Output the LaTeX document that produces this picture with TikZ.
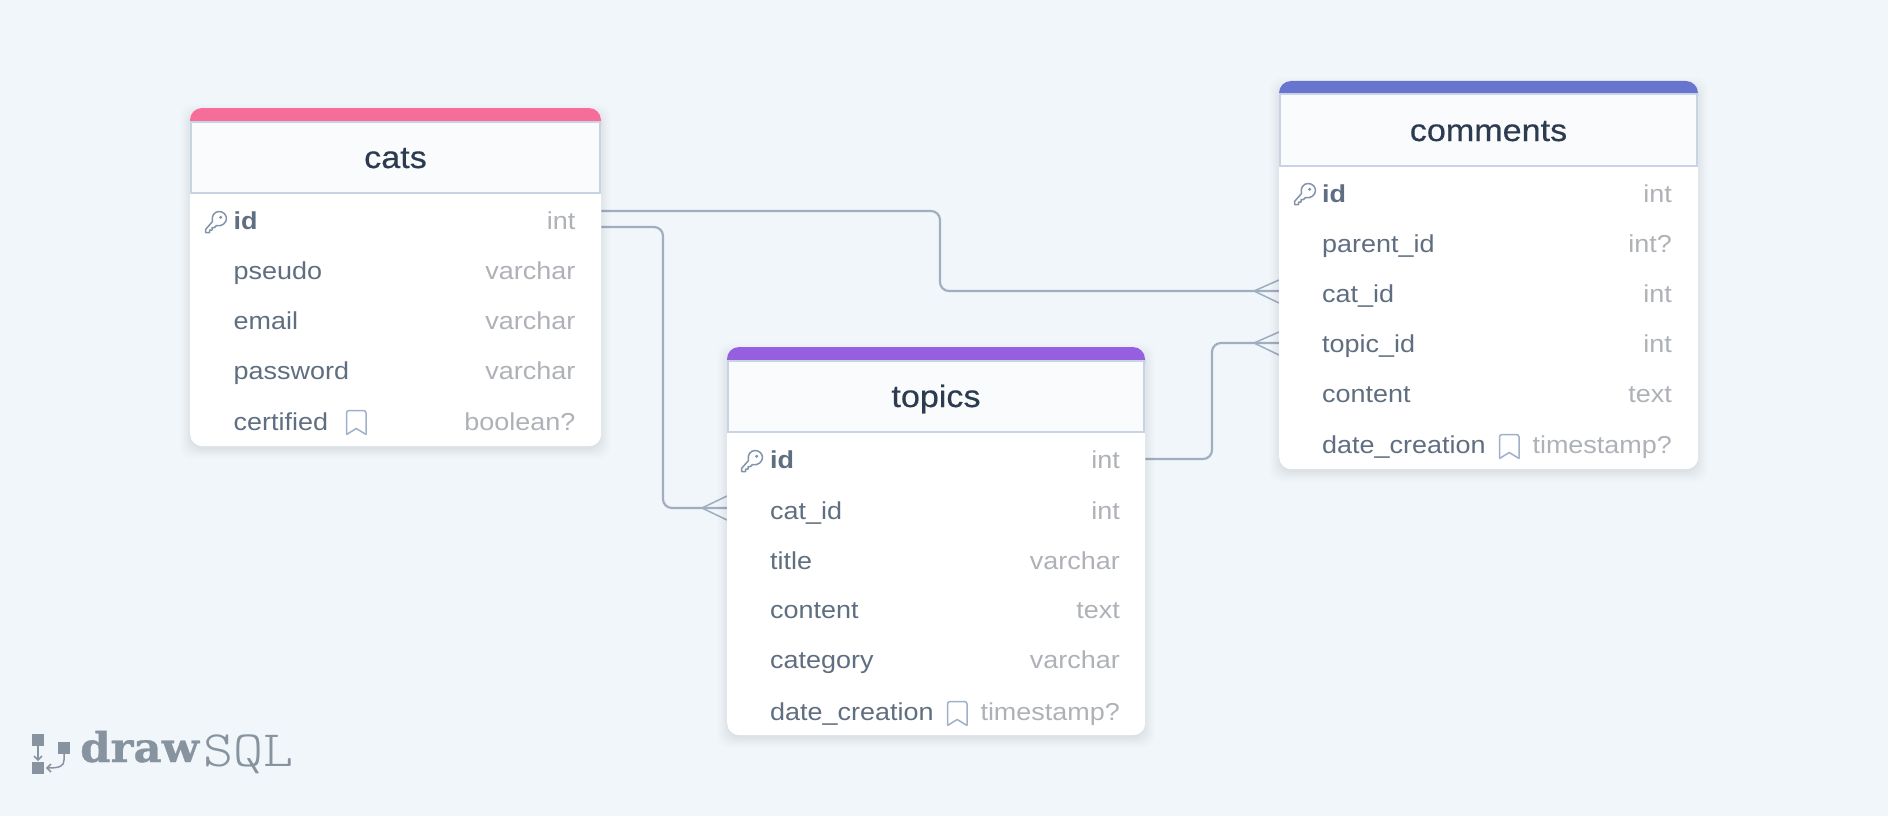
\documentclass[tikz,border=0pt]{standalone}
\usepackage{fontspec}
\setmainfont[FakeStretch=1.1]{Liberation Sans}
\newfontfamily\titlefont[FakeStretch=1.1,FakeBold=0.5]{Liberation Sans}
\newfontfamily\logobold[FakeStretch=1.06,FakeBold=0.8]{DejaVu Serif}
\newfontfamily\logolight[FakeStretch=1.12]{Latin Modern Mono Light}
\definecolor{pagebg}{HTML}{F1F6FA}
\definecolor{headbg}{HTML}{F9FBFD}
\definecolor{headline}{HTML}{C8D4E4}
\definecolor{titletxt}{HTML}{2D3B50}
\definecolor{nametxt}{HTML}{5F6E80}
\definecolor{typetxt}{HTML}{AEB2B7}
\definecolor{conn}{HTML}{A0AEC2}
\definecolor{iconc}{HTML}{8494A8}
\definecolor{bmark}{HTML}{A0B0CA}
\definecolor{logoc}{HTML}{87949F}
\definecolor{catpink}{HTML}{F76D9A}
\definecolor{compurple}{HTML}{6875CF}
\definecolor{toppurple}{HTML}{965FE0}
\pgfdeclarelayer{bg}
\pgfdeclarelayer{under}
\pgfsetlayers{bg,under,main}
\tikzset{
  x=1pt,y=-1pt,
  conline/.style={draw=conn,line width=2.2pt,rounded corners=9pt},
  crow/.style={draw=conn,line width=1.5pt},
  rowname/.style={anchor=base west,inner sep=0pt,text=nametxt,font=\fontsize{24.5}{24.5}\selectfont},
  pkname/.style={rowname,font=\fontsize{24.5}{24.5}\selectfont\bfseries},
  rowtype/.style={anchor=base east,inner sep=0pt,text=typetxt,font=\fontsize{24.5}{24.5}\selectfont},
  tabletitle/.style={anchor=base,inner sep=0pt,text=titletxt,font=\titlefont\fontsize{31}{31}\selectfont},
  bookmark/.style={draw=bmark,line width=1.5pt,line join=round},
  keyicon/.style={draw=iconc,line width=1.5pt,line join=round,line cap=round},
}
% #1 name, #2 left, #3 right, #4 top, #5 stripe bottom, #6 header bottom, #7 bottom, #8 colour
\newcommand{\erbox}[8]{%
  \foreach \s/\o in {10/0.008,8/0.01,6/0.012,4/0.014,2/0.016,0/0.02}{
    \fill[black,opacity=\o,rounded corners=12pt] (#2-\s,#4-\s+6) rectangle (#3+\s,#7+\s+3);
  }
  \node[fill=white,rounded corners=12pt,inner sep=0pt,minimum width=#3-#2,minimum height=#7-#4,anchor=north west] (#1body) at (#2,#4) {};
  \fill[#8,rounded corners=12pt] (#2,#5+16) -- (#2,#4) -- (#3,#4) -- (#3,#5+16) -- cycle;
  \fill[white] (#2,#5) rectangle (#3,#6+16);
  \node[draw=headline,fill=headbg,line width=1.8pt,inner sep=0pt,minimum width=#3-#2-1.8,minimum height=#6-#5-1.8,anchor=north west] (#1) at (#2,#5) {};
}
\newcommand{\keyat}[2]{%
  \begin{scope}[shift={(#1,#2)}]
    \draw[keyicon] (0.5,18.5) -- (0.5,21.5) -- (4.5,21.5) -- (4.5,19) -- (7,19) -- (7,16.5) -- (9.5,16.5) -- (11.5,14.5)
      .. controls (17,16) and (21.5,11.5) .. (21.5,7.5)
      .. controls (21.5,3.5) and (18,0.5) .. (14,0.5)
      .. controls (9.5,0.5) and (6,5) .. (7.5,10.5) -- (0.5,18.5) -- cycle;
    \fill[iconc] (15.7,6.3) circle (1.7);
  \end{scope}
}
\newcommand{\markat}[2]{%
  \draw[bookmark,rounded corners=2.5pt] (#1,#2+24) -- (#1,#2) -- (#1+19.5,#2) -- (#1+19.5,#2+24);
  \draw[bookmark] (#1,#2+24) -- (#1+9.75,#2+18) -- (#1+19.5,#2+24);
}
\begin{document}
\begin{tikzpicture}
\begin{pgfonlayer}{bg}
\fill[pagebg] (0,0) rectangle (1888,816);
\end{pgfonlayer}
\useasboundingbox (0,0) rectangle (1888,816);

\erbox{cats}{190}{601}{108}{121}{194}{446}{catpink}
\erbox{comments}{1279}{1698}{81}{93}{167}{469}{compurple}
\erbox{topics}{727}{1145}{347}{360}{433}{735}{toppurple}

\begin{pgfonlayer}{under}
\draw[conline] (catsbody.east |- 0,211) -- (940,211) -- (940,291) -- (commentsbody.west |- 0,291);
\draw[conline] (catsbody.east |- 0,227) -- (663,227) -- (663,508) -- (topicsbody.west |- 0,508);
\draw[conline] (topicsbody.east |- 0,459) -- (1212,459) -- (1212,343) -- (commentsbody.west |- 0,343);
\draw[crow] (commentsbody.west |- 0,280) -- (1254,291) -- (commentsbody.west |- 0,303);
\draw[crow] (commentsbody.west |- 0,332) -- (1254,343) -- (commentsbody.west |- 0,355);
\draw[crow] (topicsbody.west |- 0,496) -- (702,508) -- (topicsbody.west |- 0,520);
\end{pgfonlayer}

% cats
\node[tabletitle] (catsT) at (395.5,168) {cats};
\keyat{205}{211}
\node[pkname]  (cats1) at (233.5,229) {id};       \node[rowtype] (catst1) at (575.5,229) {int};
\node[rowname] (cats2) at (233.5,279) {pseudo};   \node[rowtype] (catst2) at (575.5,279) {varchar};
\node[rowname] (cats3) at (233.5,329) {email};    \node[rowtype] (catst3) at (575.5,329) {varchar};
\node[rowname] (cats4) at (233.5,379) {password}; \node[rowtype] (catst4) at (575.5,379) {varchar};
\node[rowname] (cats5) at (233.5,430) {certified};\node[rowtype] (catst5) at (575.5,430) {boolean?};
\markat{346.5}{410.5}

% comments
\node[tabletitle] (commentsT) at (1488.5,141) {comments};
\keyat{1294}{183}
\node[pkname]  (com1) at (1322,202) {id};            \node[rowtype] (comt1) at (1672,202) {int};
\node[rowname] (com2) at (1322,252) {parent\_id};    \node[rowtype] (comt2) at (1672,252) {int?};
\node[rowname] (com3) at (1322,302) {cat\_id};       \node[rowtype] (comt3) at (1672,302) {int};
\node[rowname] (com4) at (1322,352) {topic\_id};     \node[rowtype] (comt4) at (1672,352) {int};
\node[rowname] (com5) at (1322,402) {content};       \node[rowtype] (comt5) at (1672,402) {text};
\node[rowname] (com6) at (1322,453) {date\_creation};\node[rowtype] (comt6) at (1672,453) {timestamp?};
\markat{1499.5}{434.5}

% topics
\node[tabletitle] (topicsT) at (936,407) {topics};
\keyat{741}{450}
\node[pkname]  (top1) at (770,468) {id};            \node[rowtype] (topt1) at (1120,468) {int};
\node[rowname] (top2) at (770,519) {cat\_id};       \node[rowtype] (topt2) at (1120,519) {int};
\node[rowname] (top3) at (770,569) {title};         \node[rowtype] (topt3) at (1120,569) {varchar};
\node[rowname] (top4) at (770,618) {content};       \node[rowtype] (topt4) at (1120,618) {text};
\node[rowname] (top5) at (770,668) {category};      \node[rowtype] (topt5) at (1120,668) {varchar};
\node[rowname] (top6) at (770,720) {date\_creation};\node[rowtype] (topt6) at (1120,720) {timestamp?};
\markat{947.5}{701.5}

% logo
\fill[logoc] (32,734) rectangle (44,746);
\fill[logoc] (32,762) rectangle (44,774);
\fill[logoc] (58,742) rectangle (70,754);
\draw[logoc,line width=1.5pt] (38,746) -- (38,759);
\draw[logoc,line width=1.5pt] (34,756) -- (38,760) -- (42,756);
\draw[logoc,line width=1.5pt] (64,754) -- (64,760) .. controls (64,766) and (60,768) .. (48,768);
\draw[logoc,line width=1.5pt] (51,764) -- (47,768) -- (51,772);
\node[anchor=base west,inner sep=0pt,text=logoc,font=\logobold\bfseries\fontsize{41}{41}\selectfont] (logoA) at (80,762) {draw};
\node[anchor=base west,inner sep=0pt,text=logoc,font=\logolight\fontsize{51}{51}\selectfont] (logoB) at (203,766) {SQL};
\end{tikzpicture}
\end{document}
